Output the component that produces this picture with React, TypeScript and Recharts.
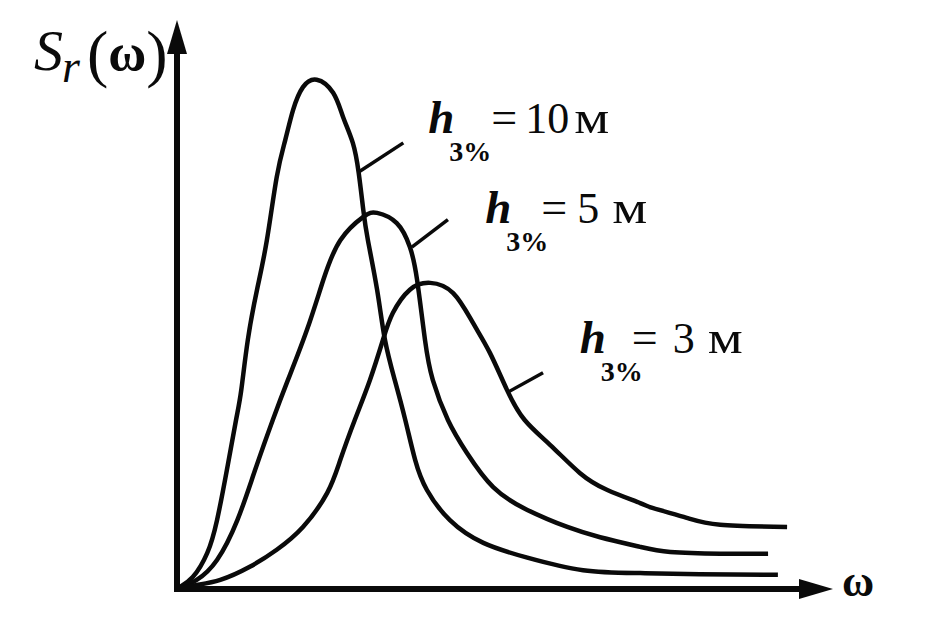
import React from "react";
import { LineChart, Line, XAxis, YAxis, ReferenceLine, ReferenceDot } from "recharts";

// ω (frequency) and S_r(ω), arbitrary units 0..10
const omega10 = [0, 0.05, 0.24, 0.46, 0.61, 0.76, 0.9, 0.98, 1.08, 1.22, 1.37, 1.52, 1.65, 1.77, 1.92, 2.13, 2.38, 2.53, 2.68, 2.77, 2.84, 2.91, 3.05, 3.17, 3.32, 3.48, 3.63, 3.81, 4.16, 4.67, 5.34, 6.19, 7.06, 7.97, 9.16];
const s10 = [0, 0.04, 0.21, 0.63, 1.21, 2.09, 2.97, 3.5, 4.38, 5.26, 6.13, 7.24, 7.89, 8.42, 8.82, 8.95, 8.72, 8.3, 7.84, 7.31, 6.66, 6.13, 5.26, 4.38, 3.67, 2.97, 2.27, 1.74, 1.21, 0.81, 0.55, 0.33, 0.28, 0.26, 0.25];

const omega5 = [0, 0.3, 0.61, 0.92, 1.19, 1.46, 1.69, 1.98, 2.23, 2.49, 2.84, 3.05, 3.35, 3.55, 3.66, 3.78, 3.9, 4.13, 4.42, 4.82, 5.34, 5.95, 6.45, 7.06, 7.52, 8.28, 9.01];
const s5 = [0, 0.16, 0.51, 1.21, 2.09, 2.97, 3.67, 4.55, 5.43, 6.13, 6.54, 6.61, 6.43, 6.01, 5.43, 4.38, 3.67, 2.97, 2.39, 1.79, 1.39, 1.09, 0.91, 0.74, 0.65, 0.62, 0.62];

const omega3 = [0, 0.3, 0.66, 1.11, 1.52, 1.92, 2.29, 2.49, 2.71, 2.94, 3.14, 3.29, 3.55, 3.86, 4.21, 4.51, 4.77, 5.03, 5.3, 5.69, 6.14, 6.56, 7.06, 7.26, 7.77, 8.28, 9.3];
const s3 = [0, 0.07, 0.16, 0.39, 0.69, 1.09, 1.69, 2.27, 2.97, 3.67, 4.38, 4.85, 5.26, 5.38, 5.2, 4.68, 4.15, 3.5, 2.97, 2.53, 2.04, 1.74, 1.51, 1.42, 1.25, 1.13, 1.09];

// curve labels: wave height h3% and where the label / leader line sit
const heights = ["10", "5", "3"];
const labelAt = [[3.83, 8.01], [4.7, 6.43], [6.14, 4.15]];
const leaders = [
  [[2.77, 7.33], [3.45, 7.84]],
  [[3.58, 6.01], [4.13, 6.49]],
  [[5.03, 3.45], [5.58, 3.8]],
];

const toPoints = (w: number[], s: number[]) => w.map((v, i) => ({ w: v, s: s[i] }));

const FONT = "'Liberation Serif', 'Times New Roman', serif";
const INK = "#0a0a0a";

// per-label horizontal offsets: [eq, number, unit]
const offs = [[63, 97, 146], [56, 92, 127], [52, 93, 128]];

function HLabel({ cx, cy, idx }: any) {
  const [eq, num, unit] = offs[idx];
  return (
    <g fontFamily={FONT} fill={INK}>
      <text x={cx} y={cy} fontSize={47} fontStyle="italic" fontWeight="bold">h</text>
      <text x={cx + 21} y={cy + 28} fontSize={28} fontWeight="bold">3%</text>
      <text x={cx + eq} y={cy} fontSize={46}>=</text>
      <text x={cx + num} y={cy} fontSize={44}>{heights[idx]}</text>
      <text x={cx + unit} y={cy} fontSize={46} textLength={35} lengthAdjust="spacingAndGlyphs">м</text>
    </g>
  );
}

function UpArrow({ cx, cy }: any) {
  return <path d={`M${cx},${cy} L${cx - 10},${cy + 34} L${cx + 10},${cy + 34} Z`} fill={INK} />;
}

function RightArrow({ cx, cy }: any) {
  return <path d={`M${cx},${cy} L${cx - 34},${cy - 10} L${cx - 34},${cy + 10} Z`} fill={INK} />;
}

function YTitle({ cx, cy }: any) {
  // cx, cy = top of the y axis
  return (
    <g fontFamily={FONT} fill={INK}>
      <text x={cx - 143} y={cy + 50} fontSize={58} fontStyle="italic">S</text>
      <text x={cx - 115} y={cy + 62} fontSize={46} fontStyle="italic">r</text>
      <text x={cx - 90} y={cy + 55} fontSize={64}>
        (<tspan fontSize={52} fontWeight="bold" dy={-5}>ω</tspan><tspan dy={5}>)</tspan>
      </text>
    </g>
  );
}

function XTitle({ cx, cy }: any) {
  return (
    <text x={cx + 9} y={cy + 7} fontFamily={FONT} fontSize={44} fontWeight="bold" fill={INK}>ω</text>
  );
}

export default function App() {
  return (
    <div style={{ position: "absolute", left: 0, top: 0, width: 936, height: 641, background: "#fff" }}>
      <LineChart width={936} height={641} margin={{ top: 20, right: 103, left: 177, bottom: 52 }}>
        <XAxis dataKey="w" type="number" domain={[0, 10]} hide />
        <YAxis dataKey="s" type="number" domain={[0, 10]} hide />

        <Line data={toPoints(omega10, s10)} dataKey="s" type="natural" stroke={INK} strokeWidth={4.5} dot={false} isAnimationActive={false} />
        <Line data={toPoints(omega5, s5)} dataKey="s" type="natural" stroke={INK} strokeWidth={4.5} dot={false} isAnimationActive={false} />
        <Line data={toPoints(omega3, s3)} dataKey="s" type="natural" stroke={INK} strokeWidth={4.5} dot={false} isAnimationActive={false} />

        {/* axes with arrows */}
        <ReferenceLine segment={[{ x: 0, y: 0 }, { x: 9.5, y: 0 }]} stroke={INK} strokeWidth={6} strokeLinecap="square" ifOverflow="visible" />
        <ReferenceLine segment={[{ x: 0, y: 0 }, { x: 0, y: 9.5 }]} stroke={INK} strokeWidth={6} strokeLinecap="square" ifOverflow="visible" />
        <ReferenceDot x={10} y={0} ifOverflow="visible" shape={RightArrow} />
        <ReferenceDot x={0} y={10} ifOverflow="visible" shape={UpArrow} />
        <ReferenceDot x={0} y={10} ifOverflow="visible" shape={YTitle} />
        <ReferenceDot x={10} y={0} ifOverflow="visible" shape={XTitle} />

        {leaders.map((seg, i) => (
          <ReferenceLine
            key={"l" + i}
            segment={[{ x: seg[0][0], y: seg[0][1] }, { x: seg[1][0], y: seg[1][1] }]}
            stroke={INK}
            strokeWidth={3.5}
          />
        ))}
        {labelAt.map((p, i) => (
          <ReferenceDot key={"h" + i} x={p[0]} y={p[1]} ifOverflow="visible" shape={(props: any) => <HLabel {...props} idx={i} />} />
        ))}
      </LineChart>
    </div>
  );
}
